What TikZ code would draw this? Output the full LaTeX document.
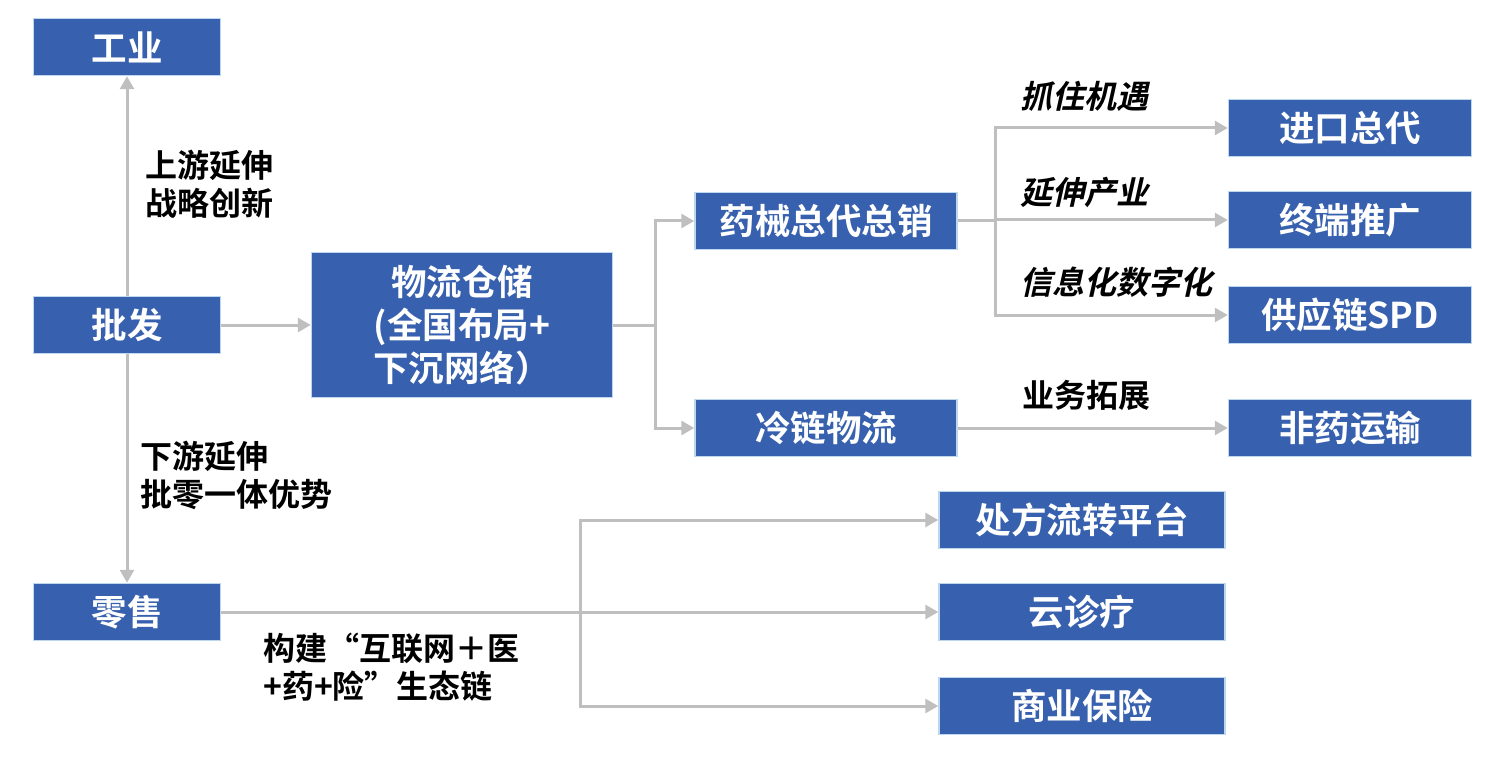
\documentclass[tikz,border=0pt]{standalone}
\usepackage{fontspec}
\usetikzlibrary{arrows.meta}
\setmainfont{Noto Sans CJK SC Bold}
\newfontfamily\slantcjk{Noto Sans CJK SC Bold}[FakeSlant=0.22]
\definecolor{boxblue}{HTML}{3760AE}
\definecolor{boxedge}{HTML}{BDD7EE}
\definecolor{linegray}{HTML}{BFBFBF}
\newcommand{\boxfont}{\fontsize{35.5}{43}\selectfont}
\newcommand{\tagfont}{\fontsize{32}{38}\selectfont}

\begin{document}
\begin{tikzpicture}[
    x=1pt, y=-1pt,
    box/.style={fill=boxblue, draw=boxedge, line width=1.5pt, text=white,
        font=\boxfont, inner sep=0pt, align=center, minimum height=57pt},
    narrow/.style={box, minimum width=187pt},
    mid/.style={box, minimum width=262pt},
    wide/.style={box, minimum width=243pt},
    wider/.style={box, minimum width=286pt},
    link/.style={draw=linegray, line width=3pt,
        -{Triangle[length=13pt,width=14pt,fill=linegray]}},
    trunk/.style={draw=linegray, line width=3pt},
    tag/.style={font=\tagfont, anchor=west, align=left, inner sep=0pt},
    slanttag/.style={tag, font=\tagfont\slantcjk}
]
\useasboundingbox (0,0) rectangle (1497,762);

% left column
\node[narrow] (gongye)   at (127,47)  {工业};
\node[narrow] (pifa)     at (127,325) {批发};
\node[narrow] (lingshou) at (127,612) {零售};

% middle
\node[box, minimum width=301pt, minimum height=145pt] (wuliu) at (462,325)
    {物流仓储\\(全国布局+\\下沉网络）};
\node[mid] (yaoxie)   at (826,221) {药械总代总销};
\node[mid] (lenglian) at (826,428) {冷链物流};

% right column
\node[wide] (jinkou)    at (1350,128) {进口总代};
\node[wide] (zhongduan) at (1350,220) {终端推广};
\node[wide] (spd)       at (1350,315) {供应链SPD};
\node[wide] (feiyao)    at (1350,428) {非药运输};

\node[wider] (chufang) at (1082,520) {处方流转平台};
\node[wider] (yunzhen) at (1082,612) {云诊疗};
\node[wider] (baoxian) at (1082,706) {商业保险};

% branch points
\coordinate (wuliufork)    at (655,325);
\coordinate (yaoxiefork)   at (995,221);
\coordinate (lingshoufork) at (580,612);

% connectors
\draw[link] (pifa) -- (gongye);
\draw[link] (pifa) -- (lingshou);
\draw[link] (pifa) -- (wuliu);

\draw[trunk] (wuliu.east) -- (wuliufork);
\draw[link] (wuliufork) |- (yaoxie.west);
\draw[link] (wuliufork) |- (lenglian.west);

\draw[trunk] (yaoxie.east) -- (yaoxiefork);
\draw[link] (yaoxiefork) |- (jinkou.west);
\draw[link] (yaoxiefork) |- (zhongduan.west);
\draw[link] (yaoxiefork) |- (spd.west);

\draw[link] (lenglian) -- (feiyao);

\draw[trunk] (lingshou.east) -- (lingshoufork);
\draw[link] (lingshoufork) |- (chufang.west);
\draw[link] (lingshoufork) -- (yunzhen.west);
\draw[link] (lingshoufork) |- (baoxian.west);

% labels
\node[tag] (shangyou) at (145,184) {上游延伸\\战略创新};
\node[tag] (xiayou)   at (140,475) {下游延伸\\批零一体优势};
\node[tag] (goujian)  at (263,667) {构建“互联网＋医\\+药+险”生态链};
\node[slanttag] (jiyu)    at (1020,96)  {抓住机遇};
\node[slanttag] (chanye)  at (1020,192) {延伸产业};
\node[slanttag] (shuzi)   at (1020,282) {信息化数字化};
\node[tag] (tuozhan)      at (1022,395) {业务拓展};
\end{tikzpicture}
\end{document}
